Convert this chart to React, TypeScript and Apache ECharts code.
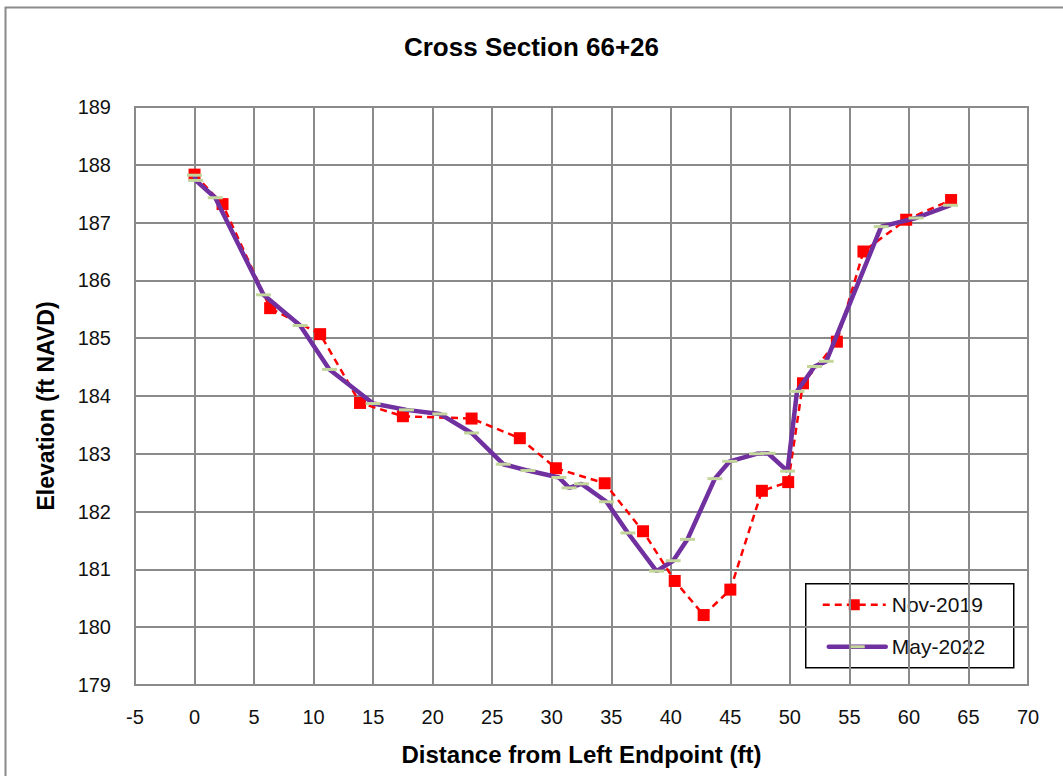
import React, { useEffect, useRef } from "react";
import * as echarts from "echarts";

const titleText = "Cross Section 66+26";
const xAxisTitle = "Distance from Left Endpoint (ft)";
const yAxisTitle = "Elevation (ft NAVD)";

const nov2019X = [0, 2.35, 6.35, 10.55, 13.9, 17.5, 23.27, 27.32, 30.35, 34.45, 37.67, 40.33, 42.76, 45.0, 47.65, 49.86, 51.1, 53.95, 56.18, 59.77, 63.54];
const nov2019Y = [187.83, 187.32, 185.52, 185.07, 183.88, 183.65, 183.61, 183.27, 182.75, 182.49, 181.66, 180.8, 180.21, 180.65, 182.36, 182.51, 184.22, 184.94, 186.5, 187.05, 187.39];

const may2022X = [0, 0.1, 1.74, 5.79, 8.87, 11.33, 15.0, 17.8, 20.6, 23.27, 25.93, 28.0, 30.6, 31.46, 32.5, 34.6, 36.4, 38.8, 40.2, 41.4, 43.7, 44.95, 47.2, 48.16, 49.8, 50.6, 52.07, 53.05, 57.67, 60.6, 63.5];
const may2022Y = [187.82, 187.73, 187.43, 185.75, 185.22, 184.46, 183.87, 183.76, 183.69, 183.36, 182.82, 182.71, 182.59, 182.41, 182.48, 182.17, 181.63, 180.97, 181.15, 181.52, 182.57, 182.87, 183.0, 183.01, 182.7, 184.08, 184.51, 184.6, 186.93, 187.08, 187.3];

const seriesNames = ["Nov-2019", "May-2022"];

const FONT = "'Liberation Sans', Arial, sans-serif";
const GRID_COLOR = "#8a8a8a";
const RED = "#ff0000";
const PURPLE = "#7030a0";
const GREEN = "#c3d69b";

export default function App() {
  const ref = useRef<HTMLDivElement>(null);
  useEffect(() => {
    if (!ref.current) return;
    const chart = echarts.init(ref.current, null, { renderer: "svg" });
    const novData = nov2019X.map((x, i) => [x, nov2019Y[i]]);
    const mayData = may2022X.map((x, i) => [x, may2022Y[i]]);
    chart.setOption({
      animation: false,
      backgroundColor: "#ffffff",
      textStyle: { fontFamily: FONT },
      title: {
        text: titleText,
        left: "center",
        top: 29,
        textStyle: { fontFamily: FONT, fontSize: 26, fontWeight: "bold", color: "#000" },
      },
      grid: { left: 135, right: 35, top: 107, bottom: 91, show: true, borderColor: GRID_COLOR, borderWidth: 2 },
      xAxis: {
        type: "value",
        min: -5,
        max: 70,
        interval: 5,
        name: xAxisTitle,
        nameLocation: "middle",
        nameGap: 57,
        nameTextStyle: { fontFamily: FONT, fontSize: 24, fontWeight: "bold", color: "#000" },
        axisLine: { show: false },
        axisTick: { show: false },
        axisLabel: { fontFamily: FONT, fontSize: 20, color: "#111", margin: 22 },
        splitLine: { show: true, lineStyle: { color: GRID_COLOR, width: 2 } },
      },
      yAxis: {
        type: "value",
        min: 179,
        max: 189,
        interval: 1,
        name: yAxisTitle,
        nameLocation: "middle",
        nameGap: 78,
        nameRotate: 90,
        nameTextStyle: { fontFamily: FONT, fontSize: 23, fontWeight: "bold", color: "#000", padding: [0, 20, 0, 0] },
        axisLine: { show: false },
        axisTick: { show: false },
        axisLabel: { fontFamily: FONT, fontSize: 20, color: "#111", margin: 24 },
        splitLine: { show: true, lineStyle: { color: GRID_COLOR, width: 2 } },
      },
      series: [
        {
          name: seriesNames[0],
          type: "line",
          data: novData,
          symbol: "rect",
          symbolSize: 12,
          itemStyle: { color: RED },
          lineStyle: { color: RED, width: 2.5, type: [7, 5] },
          z: 2,
        },
        {
          name: seriesNames[1],
          type: "line",
          data: mayData,
          symbol: "rect",
          symbolSize: [15, 3],
          itemStyle: { color: GREEN },
          lineStyle: { color: PURPLE, width: 4.5 },
          z: 3,
        },
      ],
      graphic: [
        {
          type: "rect",
          shape: { x: 5.5, y: 7.5, width: 1100, height: 800 },
          style: { fill: "none", stroke: "#8a8a8a", lineWidth: 2 },
          silent: true,
        },
        {
          type: "group",
          left: 805,
          top: 583,
          z: 100,
          children: [
            {
              type: "rect",
              shape: { x: 0, y: 0, width: 208, height: 84 },
              style: { fill: "#ffffff", stroke: "#000000", lineWidth: 1.5 },
            },
            {
              type: "line",
              shape: { x1: 17, y1: 21, x2: 80, y2: 21 },
              style: { stroke: RED, lineWidth: 2.5, lineDash: [7, 5] },
            },
            {
              type: "rect",
              shape: { x: 43, y: 15.5, width: 11, height: 11 },
              style: { fill: RED },
            },
            {
              type: "text",
              style: { text: seriesNames[0], x: 86, y: 21, fontFamily: FONT, fontSize: 21, fill: "#111", verticalAlign: "middle" },
            },
            {
              type: "line",
              shape: { x1: 23, y1: 63, x2: 80, y2: 63 },
              style: { stroke: PURPLE, lineWidth: 4.5, lineCap: "round" },
            },
            {
              type: "rect",
              shape: { x: 44, y: 61.5, width: 15, height: 3 },
              style: { fill: GREEN },
            },
            {
              type: "text",
              style: { text: seriesNames[1], x: 86, y: 63, fontFamily: FONT, fontSize: 21, fill: "#111", verticalAlign: "middle" },
            },
          ],
        },
      ],
    });
    return () => chart.dispose();
  }, []);
  return <div ref={ref} style={{ position: "absolute", left: 0, top: 0, width: 1063, height: 776 }} />;
}
